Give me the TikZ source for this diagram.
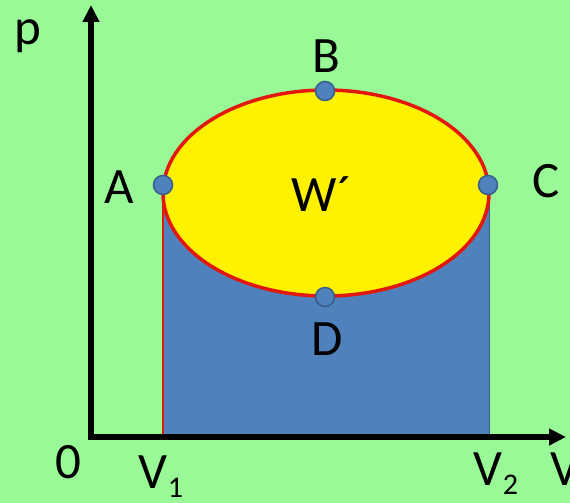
\documentclass[tikz,border=0pt]{standalone}
\usepackage{fontspec}
\setmainfont{Carlito}
\usetikzlibrary{arrows.meta}
\definecolor{bggreen}{RGB}{153,249,151}
\definecolor{areablue}{RGB}{79,129,189}
\definecolor{dotrim}{RGB}{56,93,138}
\definecolor{loopred}{RGB}{226,24,12}
\newcommand{\vsub}[1]{{\fontsize{30}{36}\selectfont\raisebox{-9pt}{#1}}}
\tikzset{
  axis/.style={line width=5.5pt, -{Triangle[length=17pt,width=16pt]}},
  statept/.style={circle, fill=areablue, draw=dotrim, line width=1.5pt,
    inner sep=0pt, minimum size=19pt},
  lbl/.style={font=\fontsize{51}{60}\selectfont, inner sep=0pt, anchor=base},
}
\begin{document}
\begin{tikzpicture}[x=1pt,y=-1pt]
\fill[bggreen] (0,0) rectangle (570,503);
\useasboundingbox (0,0) rectangle (570,503);

% area under the lower branch
\fill[areablue] (163,193) rectangle (489,437);
\draw[loopred, line width=1.2pt] (163,185) -- (163,437);
\draw[dotrim, line width=0.8pt] (489,193) -- (489,437);

% the cycle
\draw[loopred, line width=3.5pt, fill=yellow] (326,193) ellipse [x radius=163, y radius=103];

% axes
\coordinate (O) at (91,437);
\coordinate (ptop) at (91,5);
\coordinate (vend) at (566,437);
\draw[axis] ([yshift=2.75pt]O) -- (ptop);
\draw[axis] ([xshift=-2.75pt]O) -- (vend);

% states
\node[statept] (A) at (163,185) {};
\node[statept] (B) at (325,91) {};
\node[statept] (C) at (488,185) {};
\node[statept] (D) at (325,297) {};

% labels
\node[lbl] (labp) at (28,45) {p};
\node[lbl] (labA) at (119,203) {A};
\node[lbl] (labB) at (326,73) {B};
\node[lbl] (labC) at (546,197) {C};
\node[lbl] (labD) at (327,355) {D};
\node[lbl] (labW) at (322,211) {W´};
\node[lbl] (lab0) at (68,478) {0};
\node[lbl] (labV1) at (161,488) {V\vsub{1}};
\node[lbl] (labV2) at (496,485) {V\vsub{2}};
\node[lbl, anchor=base west] (labV) at (550,485) {V};
\end{tikzpicture}
\end{document}
